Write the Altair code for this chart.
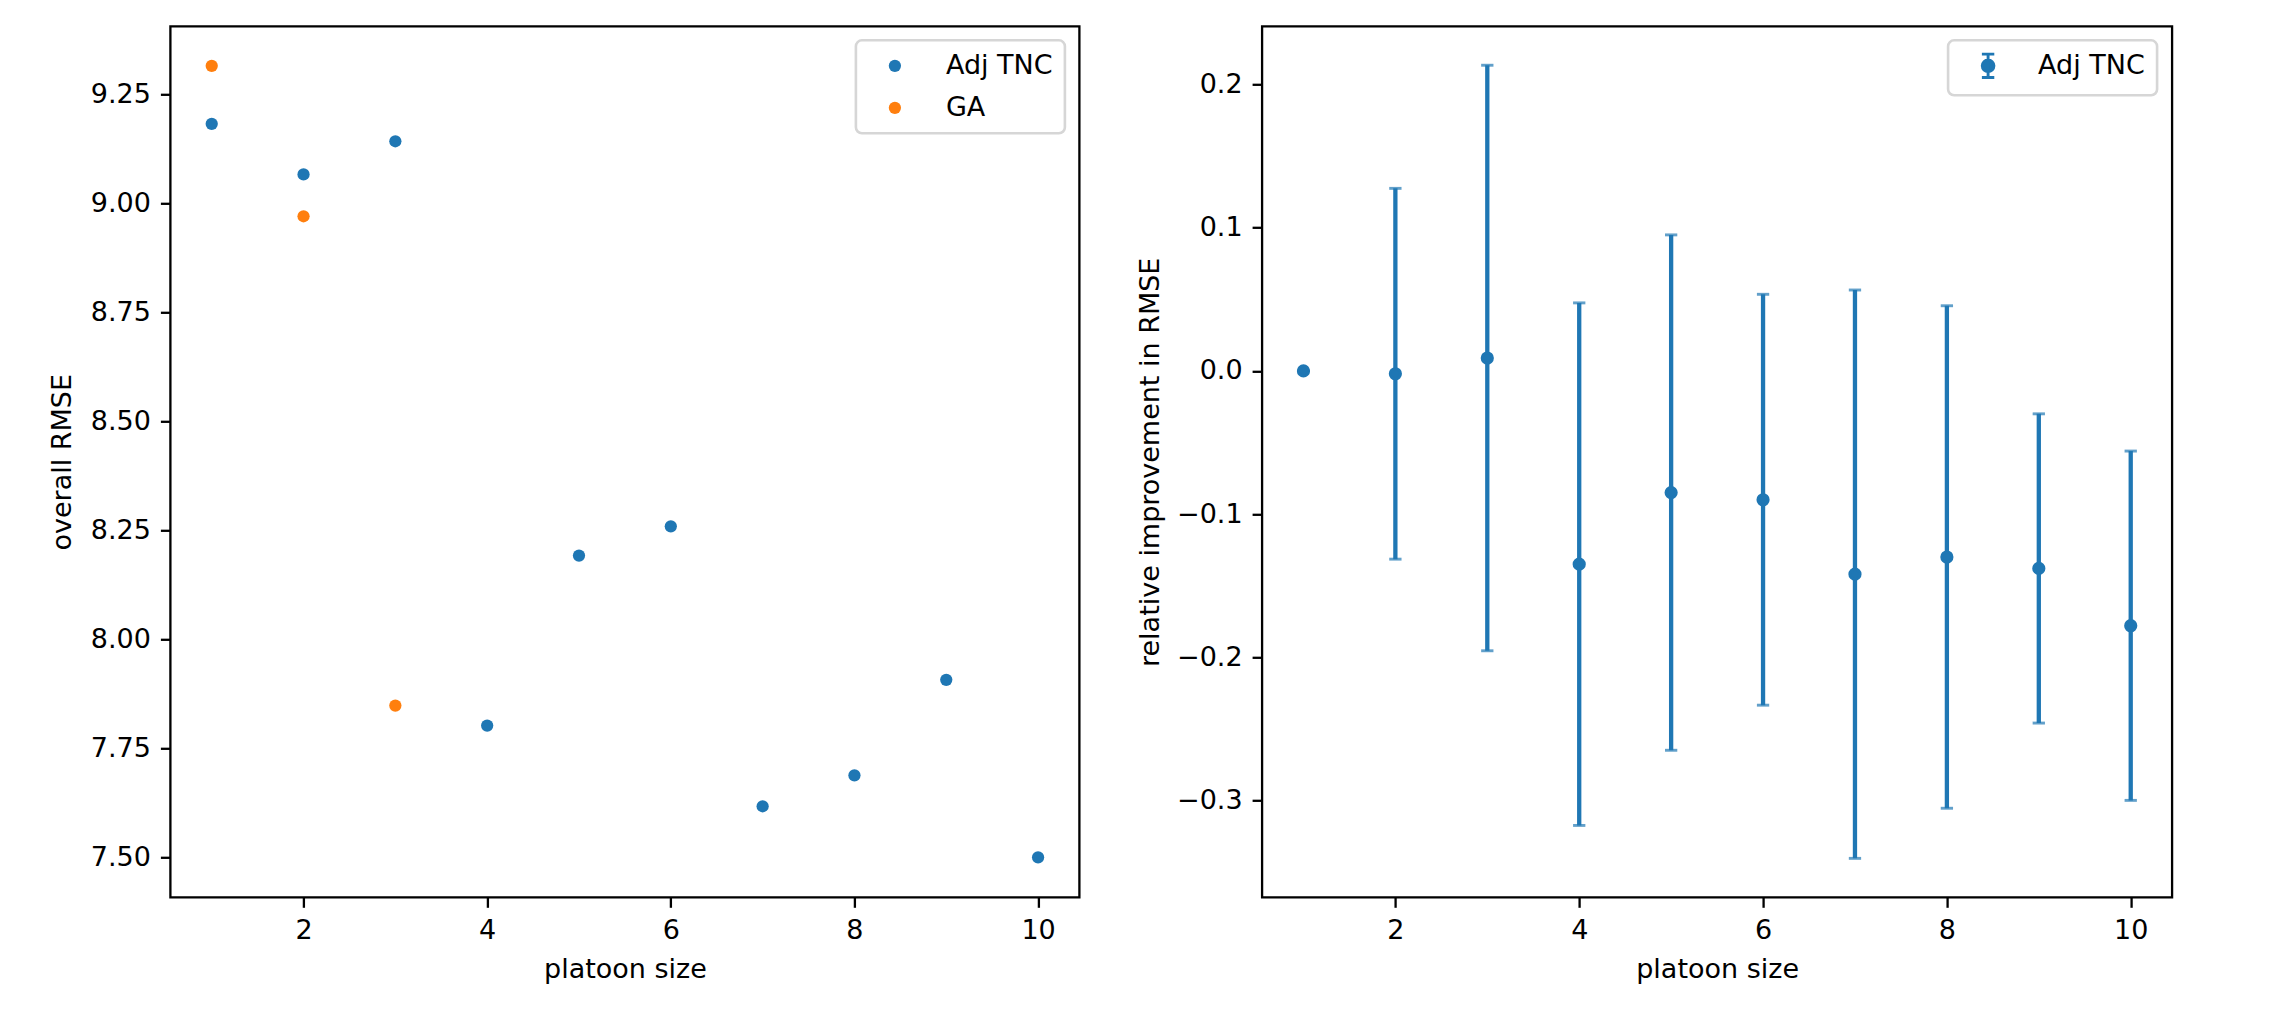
import altair as alt
import pandas as pd

# ---- data ----
platoon = [1, 2, 3, 4, 5, 6, 7, 8, 9, 10]
adj_tnc_rmse = [9.183, 9.067, 9.143, 7.803, 8.193, 8.260, 7.618, 7.689, 7.908, 7.501]
ga_platoon = [1, 2, 3]
ga_rmse = [9.316, 8.971, 7.849]

rel_improvement = [0.0, -0.002, 0.009, -0.135, -0.085, -0.090, -0.142, -0.130, -0.138, -0.178]
rel_error = [0.0, 0.1295, 0.2045, 0.1825, 0.180, 0.1435, 0.1985, 0.1755, 0.108, 0.122]

series_names = ["Adj TNC", "GA"]
x_ticks = [2, 4, 6, 8, 10]
left_y_ticks = [7.50, 7.75, 8.00, 8.25, 8.50, 8.75, 9.00, 9.25]
right_y_ticks = [-0.3, -0.2, -0.1, 0.0, 0.1, 0.2]

BLUE = "#1f77b4"
ORANGE = "#ff7f0e"
FONT = "DejaVu Sans"
FS = 27

left_df = pd.DataFrame({
    "platoon size": platoon + ga_platoon,
    "rmse": adj_tnc_rmse + ga_rmse,
    "series": [series_names[0]] * len(platoon) + [series_names[1]] * len(ga_platoon),
})
right_df = pd.DataFrame({
    "platoon size": platoon,
    "rel": rel_improvement,
    "err": rel_error,
    "kind": [series_names[0]] * len(platoon),
})

common_axis = dict(
    grid=False, domain=False, tickColor="black", tickWidth=2.3, tickSize=10,
    labelFont=FONT, labelFontSize=FS, labelColor="black", labelFlush=False,
    labelOverlap=False, titleFont=FONT, titleFontSize=FS, titleFontWeight="normal",
    titleColor="black", titleBaseline="alphabetic", titlePadding=0,
)

x_scale = alt.Scale(domain=[0.55, 10.45], nice=False, zero=False)
x_axis = alt.Axis(title="platoon size", values=x_ticks, format="d", labelPadding=31,
                  labelBaseline="alphabetic", minExtent=80, maxExtent=80, **common_axis)

left_y_axis = alt.Axis(title="overall RMSE", values=left_y_ticks, format=".2f",
                       labelPadding=10, minExtent=100, maxExtent=100, **common_axis)
right_y_axis = alt.Axis(title="relative improvement in RMSE", values=right_y_ticks,
                        format=".1f", labelPadding=10, minExtent=104, maxExtent=104,
                        **common_axis)

legend_common = dict(
    title=None, orient="none", direction="vertical", legendY=14,
    fillColor="white", strokeColor="#d6d6d6", cornerRadius=6, padding=12,
    labelFont=FONT, labelFontSize=FS, labelColor="black", rowPadding=14,
    labelLimit=400,
)

W, H = 909, 871

left = alt.Chart(left_df).mark_circle(size=150, opacity=1).encode(
    x=alt.X("platoon size:Q", scale=x_scale, axis=x_axis),
    y=alt.Y("rmse:Q", scale=alt.Scale(domain=[7.4093, 9.4067], nice=False, zero=False),
            axis=left_y_axis),
    color=alt.Color("series:N",
                    scale=alt.Scale(domain=series_names, range=[BLUE, ORANGE]),
                    legend=alt.Legend(legendX=685.5, symbolSize=150, symbolOffset=13.5,
                                      labelOffset=37.5, symbolType="circle",
                                      symbolStrokeWidth=0,
                                      **legend_common)),
).properties(width=W, height=H)

ry_scale = alt.Scale(domain=[-0.3677, 0.2407], nice=False, zero=False)
base = alt.Chart(right_df).transform_calculate(
    lo="datum.rel - datum.err", hi="datum.rel + datum.err"
)
bars = base.mark_rule(color=BLUE, strokeWidth=4.3).encode(
    x=alt.X("platoon size:Q", scale=x_scale, axis=x_axis),
    y=alt.Y("lo:Q", scale=ry_scale, axis=right_y_axis),
    y2="hi:Q",
)
cap_lo = base.mark_tick(color=BLUE, orient="horizontal", size=12.3, thickness=2.9).encode(
    x=alt.X("platoon size:Q", scale=x_scale, axis=x_axis),
    y=alt.Y("lo:Q", scale=ry_scale, axis=right_y_axis),
)
cap_hi = base.mark_tick(color=BLUE, orient="horizontal", size=12.3, thickness=2.9).encode(
    x=alt.X("platoon size:Q", scale=x_scale, axis=x_axis),
    y=alt.Y("hi:Q", scale=ry_scale, axis=right_y_axis),
)
err_symbol = ("M-0.5,0A0.5,0.5,0,1,0,0.5,0A0.5,0.5,0,1,0,-0.5,0Z "
              "M0,-1L0,1 M-0.53,-1L0.53,-1 M-0.53,1L0.53,1")
points = base.mark_circle(size=106, opacity=1, stroke=BLUE, strokeWidth=2.9).encode(
    x=alt.X("platoon size:Q", scale=x_scale, axis=x_axis),
    y=alt.Y("rel:Q", scale=ry_scale, axis=right_y_axis),
    fill=alt.Fill("kind:N", scale=alt.Scale(domain=[series_names[0]], range=[BLUE]),
                  legend=alt.Legend(legendX=686, symbolSize=547, symbolOffset=14.5,
                                    labelOffset=36.5, symbolType=err_symbol,
                                    symbolFillColor=BLUE, symbolStrokeColor=BLUE,
                                    symbolStrokeWidth=2.9, **legend_common)),
)
right = alt.layer(bars, cap_lo, cap_hi, points).properties(width=910, height=H)

chart = alt.hconcat(left, right, spacing=52.7).resolve_scale(
    color="independent", fill="independent"
).resolve_legend(color="independent", fill="independent").properties(
    padding={"left": 38.4, "top": 16.3, "right": 5, "bottom": 5},
    background="white",
).configure_view(stroke="black", strokeWidth=2.3).configure_legend(strokeWidth=2.6)

chart.save("out.html", embed_options={"renderer": "svg", "actions": False})
